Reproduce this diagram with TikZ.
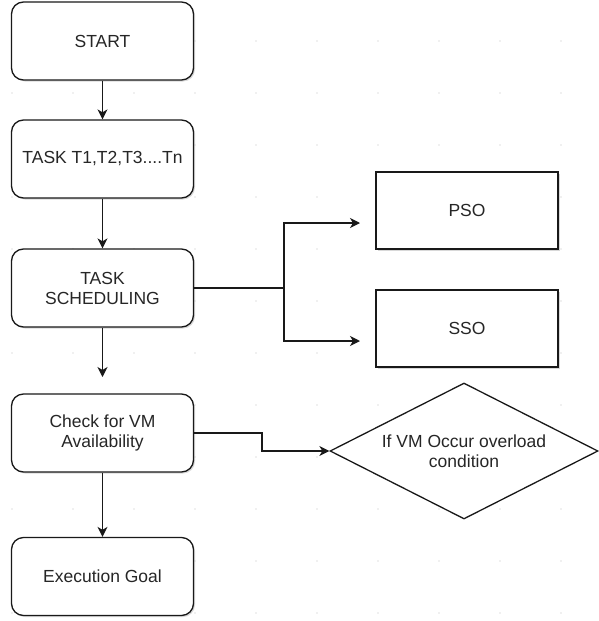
\documentclass[tikz,border=0pt]{standalone}
\usepackage{fontspec}
\setmainfont{Liberation Sans}
\usetikzlibrary{arrows.meta,shapes.geometric,shadows}
\begin{document}
\begin{tikzpicture}[x=1pt,y=-1pt,
  font=\fontsize{17.5}{20}\selectfont,
  txt/.style={text=black!85},
  rbox/.style={draw=black!90,line width=1.3pt,rounded corners=12pt,fill=white,
    minimum width=182pt,minimum height=78pt,inner sep=0pt,align=center,txt,
    drop shadow={shadow xshift=1.5pt,shadow yshift=-1.5pt,fill=black!30,opacity=0.5}},
  sbox/.style={draw=black!90,line width=1.3pt,fill=white,
    minimum width=182pt,minimum height=77pt,inner sep=0pt,align=center,txt,
    drop shadow={shadow xshift=1.5pt,shadow yshift=-1.5pt,fill=black!30,opacity=0.5}},
  dia/.style={draw=black!90,line width=1.3pt,fill=white,shape=diamond,aspect=1.97,
    minimum width=268pt,minimum height=136pt,inner sep=0pt,align=center,txt},
  arr/.style={draw=black!90,line width=1.3pt,-{Stealth[length=10pt,width=10pt,inset=3pt]}},
  ln/.style={draw=black!90,line width=1.3pt}]
\useasboundingbox (0,0) rectangle (598,621);
% faint grid dots
\foreach \gx in {12,73,134,195,256,317,378,439,500,561}
  \foreach \gy in {41,93,145,197,249,301,353,405,457,509,561,613}
    \fill[black!12] (\gx,\gy) circle (0.8pt);

\node[rbox] (S)  at (102.5,41)  {START};
\node[rbox] (T)  at (102.5,159) {TASK T1,T2,T3....Tn};
\node[rbox] (TS) at (102.5,288) {TASK\\SCHEDULING};
\node[rbox] (C)  at (102.5,433) {Check for VM\\Availability};
\node[rbox] (E)  at (102.5,576.5) {Execution Goal};
\node[sbox] (P)  at (467,210.5) {PSO};
\node[sbox] (Q)  at (467,328.5) {SSO};
\node[dia]  (D)  at (464,451) {If VM Occur overload\\condition};

\coordinate (g) at (102.5,377);
\coordinate (j) at (284,288);
\coordinate (pa) at (360,223);
\coordinate (sa) at (360,341);
\coordinate (k) at (262,433);

\draw[arr] (S.south) -- (T.north);
\draw[arr] (T.south) -- (TS.north);
\draw[arr] (TS.south) -- (g);
\draw[arr] (C.south) -- (E.north);
\draw[ln] (TS.east) -- (j);
\draw[arr] (j) |- (pa);
\draw[arr] (j) |- (sa);
\draw[arr] (C.east) -- (k) |- (D.west);
\end{tikzpicture}
\end{document}
